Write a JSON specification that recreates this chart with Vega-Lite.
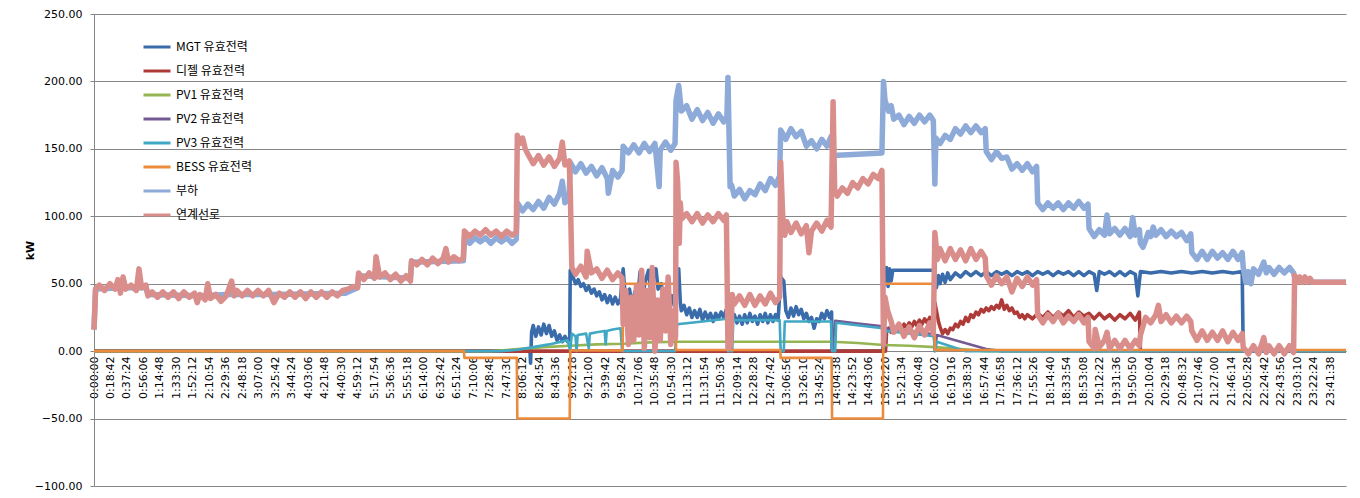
{
"$schema": "https://vega.github.io/schema/vega-lite/v6.json",
"width": 1252, "height": 472,
"autosize": {"type": "none"},
"padding": {"left": 94, "top": 14, "right": 14, "bottom": 12},
"background": "white",
"config": {"view": {"stroke": null}},
"datasets": {
"mgt": [{"t":0,"v":0},{"t":8.24,"v":0},{"t":8.25,"v":-9},{"t":8.27,"v":14},{"t":8.3,"v":19},{"t":8.35,"v":11},{"t":8.4,"v":18},{"t":8.45,"v":12},{"t":8.5,"v":20},{"t":8.55,"v":13},{"t":8.6,"v":19},{"t":8.65,"v":11},{"t":8.7,"v":15},{"t":8.75,"v":8},{"t":8.8,"v":12},{"t":8.85,"v":7},{"t":8.9,"v":11},{"t":8.95,"v":7},{"t":8.99,"v":10},{"t":9.0,"v":60},{"t":9.05,"v":55},{"t":9.1,"v":50},{"t":9.15,"v":53},{"t":9.2,"v":48},{"t":9.25,"v":50},{"t":9.3,"v":45},{"t":9.35,"v":48},{"t":9.4,"v":43},{"t":9.45,"v":46},{"t":9.5,"v":41},{"t":9.55,"v":44},{"t":9.6,"v":38},{"t":9.65,"v":42},{"t":9.7,"v":36},{"t":9.75,"v":41},{"t":9.8,"v":35},{"t":9.85,"v":40},{"t":9.9,"v":35},{"t":9.95,"v":39},{"t":10.0,"v":61},{"t":10.03,"v":45},{"t":10.08,"v":34},{"t":10.12,"v":46},{"t":10.17,"v":33},{"t":10.22,"v":44},{"t":10.27,"v":38},{"t":10.32,"v":59},{"t":10.36,"v":40},{"t":10.42,"v":52},{"t":10.48,"v":60},{"t":10.52,"v":44},{"t":10.57,"v":55},{"t":10.62,"v":61},{"t":10.66,"v":46},{"t":10.72,"v":50},{"t":10.77,"v":37},{"t":10.82,"v":44},{"t":10.87,"v":34},{"t":10.92,"v":41},{"t":10.97,"v":33},{"t":11.0,"v":60},{"t":11.05,"v":61},{"t":11.08,"v":36},{"t":11.1,"v":30},{"t":11.15,"v":34},{"t":11.2,"v":27},{"t":11.25,"v":32},{"t":11.3,"v":25},{"t":11.35,"v":30},{"t":11.4,"v":25},{"t":11.45,"v":31},{"t":11.5,"v":23},{"t":11.55,"v":29},{"t":11.6,"v":24},{"t":11.65,"v":28},{"t":11.7,"v":22},{"t":11.75,"v":28},{"t":11.8,"v":24},{"t":11.85,"v":29},{"t":11.9,"v":25},{"t":11.95,"v":31},{"t":12.0,"v":27},{"t":12.05,"v":22},{"t":12.1,"v":27},{"t":12.15,"v":21},{"t":12.2,"v":26},{"t":12.25,"v":20},{"t":12.3,"v":27},{"t":12.35,"v":21},{"t":12.4,"v":28},{"t":12.45,"v":22},{"t":12.5,"v":26},{"t":12.55,"v":20},{"t":12.6,"v":27},{"t":12.65,"v":22},{"t":12.7,"v":28},{"t":12.75,"v":21},{"t":12.8,"v":27},{"t":12.85,"v":22},{"t":12.9,"v":27},{"t":12.95,"v":23},{"t":13.0,"v":55},{"t":13.06,"v":52},{"t":13.1,"v":30},{"t":13.15,"v":25},{"t":13.2,"v":32},{"t":13.25,"v":26},{"t":13.3,"v":33},{"t":13.35,"v":27},{"t":13.4,"v":31},{"t":13.45,"v":24},{"t":13.5,"v":28},{"t":13.55,"v":22},{"t":13.6,"v":25},{"t":13.65,"v":17},{"t":13.7,"v":24},{"t":13.75,"v":22},{"t":13.8,"v":28},{"t":13.85,"v":24},{"t":13.9,"v":30},{"t":13.95,"v":25},{"t":13.99,"v":29},{"t":14.0,"v":0},{"t":14.99,"v":0},{"t":15.0,"v":60},{"t":15.03,"v":50},{"t":15.06,"v":62},{"t":15.09,"v":48},{"t":15.12,"v":61},{"t":15.15,"v":52},{"t":15.18,"v":60},{"t":15.5,"v":60},{"t":15.99,"v":60},{"t":16.0,"v":55},{"t":16.03,"v":47},{"t":16.07,"v":56},{"t":16.1,"v":50},{"t":16.15,"v":57},{"t":16.2,"v":51},{"t":16.25,"v":58},{"t":16.3,"v":53},{"t":16.4,"v":58},{"t":16.5,"v":55},{"t":16.6,"v":59},{"t":16.7,"v":56},{"t":16.8,"v":59},{"t":16.9,"v":56},{"t":17.0,"v":59},{"t":17.1,"v":56},{"t":17.2,"v":59},{"t":17.3,"v":57},{"t":17.4,"v":59},{"t":17.5,"v":56},{"t":17.6,"v":59},{"t":17.7,"v":57},{"t":17.8,"v":59},{"t":17.9,"v":56},{"t":18.0,"v":59},{"t":18.1,"v":57},{"t":18.2,"v":59},{"t":18.3,"v":56},{"t":18.4,"v":59},{"t":18.5,"v":57},{"t":18.6,"v":59},{"t":18.7,"v":56},{"t":18.8,"v":59},{"t":18.9,"v":56},{"t":19.0,"v":59},{"t":19.1,"v":57},{"t":19.15,"v":45},{"t":19.2,"v":59},{"t":19.3,"v":57},{"t":19.4,"v":59},{"t":19.5,"v":56},{"t":19.6,"v":59},{"t":19.7,"v":56},{"t":19.8,"v":59},{"t":19.9,"v":57},{"t":19.95,"v":41},{"t":20.0,"v":59},{"t":20.2,"v":58},{"t":20.4,"v":59},{"t":20.6,"v":58},{"t":20.8,"v":59},{"t":21.0,"v":58},{"t":21.2,"v":59},{"t":21.4,"v":58},{"t":21.6,"v":59},{"t":21.8,"v":58},{"t":21.98,"v":59},{"t":22.0,"v":0},{"t":24,"v":0}],
"diesel": [{"t":0,"v":0},{"t":15.04,"v":0},{"t":15.06,"v":14},{"t":15.1,"v":17},{"t":15.15,"v":14},{"t":15.2,"v":18},{"t":15.25,"v":15},{"t":15.3,"v":19},{"t":15.35,"v":16},{"t":15.4,"v":20},{"t":15.45,"v":17},{"t":15.5,"v":21},{"t":15.55,"v":18},{"t":15.6,"v":22},{"t":15.65,"v":19},{"t":15.7,"v":23},{"t":15.75,"v":20},{"t":15.8,"v":24},{"t":15.85,"v":21},{"t":15.9,"v":25},{"t":15.95,"v":23},{"t":15.99,"v":26},{"t":16.0,"v":36},{"t":16.03,"v":30},{"t":16.07,"v":22},{"t":16.1,"v":18},{"t":16.15,"v":13},{"t":16.2,"v":16},{"t":16.25,"v":13},{"t":16.3,"v":17},{"t":16.35,"v":16},{"t":16.4,"v":20},{"t":16.45,"v":18},{"t":16.5,"v":22},{"t":16.55,"v":20},{"t":16.6,"v":25},{"t":16.65,"v":22},{"t":16.7,"v":27},{"t":16.75,"v":25},{"t":16.8,"v":29},{"t":16.85,"v":27},{"t":16.9,"v":31},{"t":16.95,"v":29},{"t":17.0,"v":32},{"t":17.05,"v":30},{"t":17.1,"v":33},{"t":17.15,"v":31},{"t":17.2,"v":34},{"t":17.25,"v":32},{"t":17.3,"v":38},{"t":17.35,"v":31},{"t":17.4,"v":34},{"t":17.45,"v":30},{"t":17.5,"v":32},{"t":17.55,"v":28},{"t":17.6,"v":29},{"t":17.65,"v":25},{"t":17.7,"v":27},{"t":17.75,"v":24},{"t":17.8,"v":27},{"t":17.9,"v":24},{"t":18.0,"v":28},{"t":18.1,"v":25},{"t":18.2,"v":29},{"t":18.3,"v":25},{"t":18.4,"v":29},{"t":18.5,"v":26},{"t":18.6,"v":30},{"t":18.7,"v":25},{"t":18.8,"v":29},{"t":18.9,"v":26},{"t":19.0,"v":28},{"t":19.1,"v":24},{"t":19.2,"v":28},{"t":19.3,"v":24},{"t":19.4,"v":27},{"t":19.5,"v":23},{"t":19.6,"v":27},{"t":19.7,"v":24},{"t":19.8,"v":28},{"t":19.9,"v":23},{"t":19.98,"v":29},{"t":20.0,"v":0},{"t":24,"v":0}],
"pv1": [{"t":0,"v":0},{"t":7.5,"v":0},{"t":8.0,"v":1.5},{"t":8.5,"v":3},{"t":9.0,"v":4},{"t":9.5,"v":5},{"t":10.0,"v":5.5},{"t":10.5,"v":6.5},{"t":11.0,"v":7},{"t":14.0,"v":7},{"t":14.5,"v":6},{"t":15.0,"v":4.5},{"t":15.5,"v":4},{"t":16.0,"v":3},{"t":16.5,"v":1.5},{"t":17.0,"v":0},{"t":24,"v":0}],
"pv2": [{"t":14.0,"v":0},{"t":14.06,"v":22.5},{"t":14.5,"v":20.5},{"t":14.98,"v":18.5},{"t":15.0,"v":0},{"t":15.06,"v":17},{"t":15.5,"v":15},{"t":15.98,"v":12.5},{"t":16.0,"v":0},{"t":16.04,"v":12},{"t":16.5,"v":7},{"t":17.0,"v":1.5},{"t":17.3,"v":0},{"t":24,"v":0}],
"pv3": [{"t":0,"v":0},{"t":7.7,"v":0},{"t":8.0,"v":1},{"t":8.3,"v":3},{"t":8.6,"v":5},{"t":8.95,"v":8},{"t":9.0,"v":0},{"t":9.03,"v":13},{"t":9.1,"v":11},{"t":9.12,"v":0},{"t":9.14,"v":12},{"t":9.3,"v":13},{"t":9.35,"v":2},{"t":9.37,"v":13},{"t":9.5,"v":14},{"t":9.65,"v":15},{"t":9.67,"v":5},{"t":9.69,"v":15},{"t":9.8,"v":16},{"t":9.95,"v":17},{"t":9.98,"v":0},{"t":10.98,"v":0},{"t":11.02,"v":20},{"t":11.5,"v":22},{"t":11.96,"v":24},{"t":11.98,"v":0},{"t":12.06,"v":0},{"t":12.08,"v":23},{"t":12.98,"v":23},{"t":13.0,"v":0},{"t":13.06,"v":0},{"t":13.08,"v":22},{"t":13.98,"v":22},{"t":14.0,"v":0},{"t":14.06,"v":0},{"t":14.08,"v":21},{"t":14.98,"v":17},{"t":15.0,"v":0},{"t":15.05,"v":15},{"t":15.98,"v":11},{"t":16.0,"v":0},{"t":16.04,"v":7},{"t":16.6,"v":0},{"t":24,"v":0}],
"bess": [{"t":0,"v":0},{"t":6.99,"v":0},{"t":7.0,"v":-5},{"t":7.99,"v":-5},{"t":8.0,"v":-50},{"t":8.99,"v":-50},{"t":9.0,"v":0.5},{"t":9.99,"v":0.5},{"t":10.0,"v":50},{"t":10.99,"v":50},{"t":11.0,"v":0.8},{"t":12.99,"v":0.8},{"t":13.0,"v":-5},{"t":13.99,"v":-5},{"t":14.0,"v":-50},{"t":14.99,"v":-50},{"t":15.0,"v":50},{"t":15.99,"v":50},{"t":16.0,"v":0.8},{"t":24,"v":0.8}],
"load": [{"t":0,"v":16},{"t":0.03,"v":46},{"t":0.5,"v":47},{"t":0.98,"v":47},{"t":1.02,"v":42},{"t":2.0,"v":41},{"t":2.5,"v":42},{"t":3.4,"v":42},{"t":4.75,"v":43},{"t":4.98,"v":47},{"t":5.0,"v":56},{"t":5.98,"v":54},{"t":6.0,"v":66},{"t":6.98,"v":67},{"t":7.0,"v":83},{"t":7.1,"v":80},{"t":7.2,"v":84},{"t":7.3,"v":81},{"t":7.4,"v":84},{"t":7.5,"v":80},{"t":7.6,"v":84},{"t":7.7,"v":81},{"t":7.8,"v":84},{"t":7.9,"v":80},{"t":7.98,"v":83},{"t":8.0,"v":110},{"t":8.1,"v":104},{"t":8.2,"v":109},{"t":8.3,"v":105},{"t":8.4,"v":111},{"t":8.5,"v":106},{"t":8.6,"v":114},{"t":8.7,"v":109},{"t":8.8,"v":117},{"t":8.85,"v":126},{"t":8.9,"v":110},{"t":8.98,"v":115},{"t":9.0,"v":140},{"t":9.1,"v":133},{"t":9.2,"v":139},{"t":9.3,"v":132},{"t":9.4,"v":137},{"t":9.5,"v":130},{"t":9.6,"v":136},{"t":9.7,"v":128},{"t":9.72,"v":117},{"t":9.8,"v":134},{"t":9.9,"v":129},{"t":9.98,"v":134},{"t":10.0,"v":152},{"t":10.1,"v":147},{"t":10.2,"v":153},{"t":10.3,"v":147},{"t":10.4,"v":154},{"t":10.5,"v":148},{"t":10.6,"v":154},{"t":10.68,"v":122},{"t":10.7,"v":149},{"t":10.8,"v":155},{"t":10.9,"v":149},{"t":10.98,"v":154},{"t":11.0,"v":186},{"t":11.05,"v":197},{"t":11.1,"v":178},{"t":11.2,"v":182},{"t":11.3,"v":172},{"t":11.4,"v":179},{"t":11.5,"v":171},{"t":11.6,"v":177},{"t":11.7,"v":169},{"t":11.8,"v":176},{"t":11.9,"v":170},{"t":11.96,"v":174},{"t":11.98,"v":203},{"t":12.02,"v":122},{"t":12.05,"v":123},{"t":12.1,"v":115},{"t":12.2,"v":120},{"t":12.3,"v":113},{"t":12.4,"v":119},{"t":12.5,"v":116},{"t":12.6,"v":124},{"t":12.7,"v":119},{"t":12.8,"v":128},{"t":12.9,"v":123},{"t":12.98,"v":130},{"t":13.0,"v":164},{"t":13.1,"v":157},{"t":13.2,"v":165},{"t":13.3,"v":159},{"t":13.4,"v":163},{"t":13.5,"v":152},{"t":13.6,"v":156},{"t":13.7,"v":150},{"t":13.8,"v":157},{"t":13.9,"v":152},{"t":13.98,"v":159},{"t":14.02,"v":145},{"t":14.5,"v":146},{"t":14.97,"v":147},{"t":15.0,"v":200},{"t":15.03,"v":186},{"t":15.1,"v":178},{"t":15.15,"v":182},{"t":15.2,"v":172},{"t":15.3,"v":175},{"t":15.4,"v":168},{"t":15.5,"v":174},{"t":15.6,"v":169},{"t":15.7,"v":175},{"t":15.8,"v":170},{"t":15.9,"v":175},{"t":15.97,"v":171},{"t":16.0,"v":124},{"t":16.02,"v":158},{"t":16.1,"v":154},{"t":16.2,"v":160},{"t":16.3,"v":157},{"t":16.4,"v":165},{"t":16.5,"v":161},{"t":16.6,"v":167},{"t":16.7,"v":162},{"t":16.8,"v":167},{"t":16.9,"v":162},{"t":16.98,"v":165},{"t":17.0,"v":148},{"t":17.1,"v":142},{"t":17.2,"v":148},{"t":17.3,"v":143},{"t":17.4,"v":144},{"t":17.5,"v":135},{"t":17.6,"v":139},{"t":17.7,"v":134},{"t":17.8,"v":139},{"t":17.9,"v":133},{"t":17.98,"v":137},{"t":18.0,"v":110},{"t":18.1,"v":105},{"t":18.2,"v":110},{"t":18.3,"v":106},{"t":18.4,"v":110},{"t":18.5,"v":105},{"t":18.6,"v":110},{"t":18.7,"v":106},{"t":18.8,"v":111},{"t":18.9,"v":106},{"t":18.98,"v":109},{"t":19.0,"v":91},{"t":19.1,"v":85},{"t":19.2,"v":90},{"t":19.3,"v":86},{"t":19.35,"v":101},{"t":19.4,"v":87},{"t":19.5,"v":91},{"t":19.6,"v":86},{"t":19.7,"v":91},{"t":19.8,"v":85},{"t":19.85,"v":99},{"t":19.9,"v":86},{"t":19.98,"v":90},{"t":20.0,"v":80},{"t":20.05,"v":77},{"t":20.1,"v":82},{"t":20.15,"v":88},{"t":20.2,"v":85},{"t":20.25,"v":92},{"t":20.3,"v":86},{"t":20.4,"v":90},{"t":20.5,"v":85},{"t":20.6,"v":89},{"t":20.7,"v":85},{"t":20.8,"v":88},{"t":20.9,"v":82},{"t":20.98,"v":87},{"t":21.0,"v":73},{"t":21.1,"v":68},{"t":21.2,"v":74},{"t":21.3,"v":68},{"t":21.4,"v":74},{"t":21.5,"v":69},{"t":21.6,"v":73},{"t":21.7,"v":68},{"t":21.8,"v":74},{"t":21.9,"v":68},{"t":21.98,"v":73},{"t":22.0,"v":62},{"t":22.05,"v":51},{"t":22.1,"v":59},{"t":22.15,"v":50},{"t":22.2,"v":61},{"t":22.3,"v":57},{"t":22.4,"v":66},{"t":22.45,"v":58},{"t":22.5,"v":62},{"t":22.6,"v":57},{"t":22.7,"v":62},{"t":22.8,"v":58},{"t":22.9,"v":62},{"t":22.98,"v":58},{"t":23.0,"v":55},{"t":23.33,"v":52},{"t":23.34,"v":51},{"t":24,"v":51}],
"grid": [{"t":0,"v":16},{"t":0.03,"v":46},{"t":0.1,"v":49},{"t":0.2,"v":45},{"t":0.3,"v":50},{"t":0.4,"v":46},{"t":0.45,"v":53},{"t":0.5,"v":43},{"t":0.55,"v":55},{"t":0.6,"v":46},{"t":0.7,"v":49},{"t":0.8,"v":45},{"t":0.85,"v":61},{"t":0.9,"v":47},{"t":0.98,"v":49},{"t":1.02,"v":41},{"t":1.1,"v":44},{"t":1.2,"v":40},{"t":1.3,"v":44},{"t":1.4,"v":40},{"t":1.5,"v":44},{"t":1.6,"v":39},{"t":1.7,"v":44},{"t":1.8,"v":40},{"t":1.9,"v":43},{"t":1.95,"v":36},{"t":2.0,"v":42},{"t":2.1,"v":38},{"t":2.15,"v":50},{"t":2.2,"v":39},{"t":2.3,"v":42},{"t":2.4,"v":37},{"t":2.5,"v":41},{"t":2.6,"v":52},{"t":2.65,"v":41},{"t":2.7,"v":45},{"t":2.8,"v":41},{"t":2.9,"v":45},{"t":3.0,"v":41},{"t":3.1,"v":45},{"t":3.2,"v":41},{"t":3.3,"v":45},{"t":3.4,"v":36},{"t":3.5,"v":43},{"t":3.6,"v":40},{"t":3.7,"v":44},{"t":3.8,"v":40},{"t":3.9,"v":44},{"t":4.0,"v":39},{"t":4.1,"v":44},{"t":4.2,"v":40},{"t":4.3,"v":44},{"t":4.4,"v":40},{"t":4.5,"v":44},{"t":4.6,"v":41},{"t":4.7,"v":45},{"t":4.8,"v":46},{"t":4.9,"v":48},{"t":4.98,"v":47},{"t":5.0,"v":58},{"t":5.1,"v":53},{"t":5.2,"v":58},{"t":5.3,"v":54},{"t":5.33,"v":70},{"t":5.4,"v":55},{"t":5.5,"v":58},{"t":5.6,"v":53},{"t":5.7,"v":57},{"t":5.8,"v":52},{"t":5.9,"v":56},{"t":5.98,"v":52},{"t":6.0,"v":67},{"t":6.1,"v":64},{"t":6.2,"v":68},{"t":6.3,"v":64},{"t":6.4,"v":69},{"t":6.5,"v":65},{"t":6.6,"v":69},{"t":6.65,"v":76},{"t":6.7,"v":66},{"t":6.8,"v":70},{"t":6.9,"v":67},{"t":6.98,"v":69},{"t":7.0,"v":89},{"t":7.1,"v":85},{"t":7.2,"v":89},{"t":7.3,"v":86},{"t":7.4,"v":90},{"t":7.5,"v":86},{"t":7.6,"v":89},{"t":7.7,"v":85},{"t":7.8,"v":89},{"t":7.9,"v":86},{"t":7.98,"v":88},{"t":8.0,"v":160},{"t":8.05,"v":154},{"t":8.1,"v":158},{"t":8.15,"v":150},{"t":8.2,"v":146},{"t":8.3,"v":139},{"t":8.4,"v":145},{"t":8.5,"v":138},{"t":8.6,"v":144},{"t":8.7,"v":137},{"t":8.8,"v":143},{"t":8.85,"v":155},{"t":8.9,"v":138},{"t":8.98,"v":141},{"t":9.0,"v":120},{"t":9.03,"v":62},{"t":9.1,"v":57},{"t":9.2,"v":63},{"t":9.3,"v":55},{"t":9.32,"v":74},{"t":9.4,"v":58},{"t":9.5,"v":61},{"t":9.6,"v":54},{"t":9.7,"v":60},{"t":9.8,"v":53},{"t":9.9,"v":58},{"t":9.98,"v":54},{"t":10.0,"v":20},{"t":10.05,"v":45},{"t":10.1,"v":5},{"t":10.15,"v":40},{"t":10.2,"v":8},{"t":10.25,"v":48},{"t":10.3,"v":12},{"t":10.35,"v":60},{"t":10.4,"v":2},{"t":10.45,"v":45},{"t":10.5,"v":10},{"t":10.55,"v":62},{"t":10.6,"v":0},{"t":10.65,"v":38},{"t":10.7,"v":8},{"t":10.75,"v":46},{"t":10.8,"v":15},{"t":10.85,"v":55},{"t":10.9,"v":5},{"t":10.95,"v":30},{"t":10.99,"v":10},{"t":11.0,"v":140},{"t":11.03,"v":125},{"t":11.06,"v":80},{"t":11.08,"v":110},{"t":11.1,"v":98},{"t":11.2,"v":102},{"t":11.3,"v":96},{"t":11.4,"v":102},{"t":11.5,"v":95},{"t":11.6,"v":101},{"t":11.7,"v":96},{"t":11.8,"v":102},{"t":11.9,"v":97},{"t":11.95,"v":101},{"t":11.98,"v":2},{"t":12.03,"v":4},{"t":12.06,"v":42},{"t":12.1,"v":35},{"t":12.2,"v":41},{"t":12.3,"v":34},{"t":12.4,"v":42},{"t":12.5,"v":34},{"t":12.6,"v":41},{"t":12.7,"v":35},{"t":12.8,"v":43},{"t":12.9,"v":36},{"t":12.98,"v":40},{"t":13.0,"v":140},{"t":13.04,"v":100},{"t":13.08,"v":86},{"t":13.12,"v":96},{"t":13.2,"v":88},{"t":13.3,"v":95},{"t":13.4,"v":87},{"t":13.5,"v":93},{"t":13.55,"v":73},{"t":13.6,"v":89},{"t":13.7,"v":95},{"t":13.8,"v":89},{"t":13.9,"v":97},{"t":13.98,"v":92},{"t":14.02,"v":185},{"t":14.05,"v":120},{"t":14.1,"v":115},{"t":14.2,"v":121},{"t":14.3,"v":117},{"t":14.4,"v":125},{"t":14.5,"v":121},{"t":14.6,"v":128},{"t":14.7,"v":124},{"t":14.8,"v":131},{"t":14.9,"v":128},{"t":14.97,"v":134},{"t":15.0,"v":5},{"t":15.03,"v":40},{"t":15.08,"v":30},{"t":15.15,"v":22},{"t":15.2,"v":14},{"t":15.3,"v":20},{"t":15.4,"v":11},{"t":15.5,"v":18},{"t":15.6,"v":10},{"t":15.7,"v":19},{"t":15.8,"v":12},{"t":15.9,"v":21},{"t":15.97,"v":13},{"t":16.0,"v":88},{"t":16.05,"v":68},{"t":16.1,"v":76},{"t":16.2,"v":67},{"t":16.3,"v":76},{"t":16.4,"v":68},{"t":16.5,"v":75},{"t":16.6,"v":67},{"t":16.7,"v":76},{"t":16.8,"v":68},{"t":16.9,"v":74},{"t":16.98,"v":69},{"t":17.0,"v":56},{"t":17.1,"v":49},{"t":17.2,"v":56},{"t":17.3,"v":50},{"t":17.4,"v":55},{"t":17.5,"v":44},{"t":17.6,"v":54},{"t":17.7,"v":48},{"t":17.8,"v":55},{"t":17.9,"v":49},{"t":17.98,"v":53},{"t":18.0,"v":27},{"t":18.1,"v":21},{"t":18.2,"v":27},{"t":18.3,"v":22},{"t":18.4,"v":28},{"t":18.5,"v":21},{"t":18.6,"v":26},{"t":18.7,"v":22},{"t":18.8,"v":27},{"t":18.9,"v":21},{"t":18.98,"v":25},{"t":19.0,"v":7},{"t":19.1,"v":2},{"t":19.12,"v":16},{"t":19.2,"v":3},{"t":19.3,"v":8},{"t":19.35,"v":14},{"t":19.4,"v":2},{"t":19.5,"v":8},{"t":19.6,"v":2},{"t":19.7,"v":8},{"t":19.8,"v":2},{"t":19.9,"v":8},{"t":19.98,"v":4},{"t":20.0,"v":12},{"t":20.1,"v":25},{"t":20.2,"v":21},{"t":20.3,"v":27},{"t":20.35,"v":34},{"t":20.4,"v":22},{"t":20.5,"v":27},{"t":20.6,"v":21},{"t":20.7,"v":26},{"t":20.8,"v":21},{"t":20.9,"v":26},{"t":20.98,"v":22},{"t":21.0,"v":15},{"t":21.1,"v":8},{"t":21.2,"v":15},{"t":21.3,"v":8},{"t":21.4,"v":14},{"t":21.5,"v":8},{"t":21.6,"v":15},{"t":21.7,"v":7},{"t":21.8,"v":14},{"t":21.9,"v":8},{"t":21.98,"v":13},{"t":22.0,"v":3},{"t":22.1,"v":-2},{"t":22.2,"v":4},{"t":22.3,"v":-2},{"t":22.4,"v":10},{"t":22.45,"v":-1},{"t":22.5,"v":4},{"t":22.6,"v":-2},{"t":22.7,"v":4},{"t":22.8,"v":-2},{"t":22.9,"v":4},{"t":22.98,"v":-1},{"t":23.0,"v":56},{"t":23.05,"v":51},{"t":23.1,"v":55},{"t":23.15,"v":51},{"t":23.2,"v":55},{"t":23.25,"v":51},{"t":23.3,"v":54},{"t":23.34,"v":51},{"t":24.0,"v":51}]
},
"encoding": {
"x": {"field": "t", "type": "quantitative",
 "scale": {"domain": [0, 11.84333, 12.15389, 24], "range": [0, 626.7, 643.2, 1252], "nice": false, "zero": false},
 "axis": {"orient": "bottom", "offset": -135, "title": null, "grid": false, "ticks": false,
  "values": [0,0.31167,0.62333,0.935,1.24667,1.55833,1.87,2.18167,2.49333,2.805,3.11667,3.42833,3.74,4.05167,4.36333,4.675,4.98667,5.29833,5.61,5.92167,6.23333,6.545,6.85667,7.16833,7.48,7.79167,8.10333,8.415,8.72667,9.03833,9.35,9.66167,9.97333,10.285,10.59667,10.90833,11.22,11.53167,11.84333,12.15389,12.47444,12.795,13.11556,13.43611,13.75667,14.07722,14.39778,14.71833,15.03889,15.35944,15.68,16.00056,16.32111,16.64167,16.96222,17.28278,17.60333,17.92389,18.24444,18.565,18.88556,19.20611,19.52667,19.84722,20.16778,20.48833,20.80889,21.12944,21.45,21.77056,22.09111,22.41167,22.73222,23.05278,23.37333,23.69389],
  "labelExpr": "floor(round(datum.value*3600)/3600) + ':' + (floor(round(datum.value*3600)%3600/60) < 10 ? '0' : '') + floor(round(datum.value*3600)%3600/60) + ':' + (round(datum.value*3600)%60 < 10 ? '0' : '') + round(datum.value*3600)%60",
  "labelAngle": 270, "labelFont": "DejaVu Sans", "labelFontSize": 11, "labelColor": "#000000", "labelPadding": 5,
  "labelOverlap": false, "labelBound": false, "labelFlush": false,
  "domainColor": "#868686", "domainWidth": 1}},
"y": {"field": "v", "type": "quantitative",
 "scale": {"domain": [-100, 250], "nice": false, "zero": false},
 "axis": {"values": [-100,-50,0,50,100,150,200,250], "format": ".2f", "grid": true, "gridColor": "#868686", "gridWidth": 1,
  "domainColor": "#868686", "tickColor": "#868686", "tickSize": 4, "labelPadding": 8,
  "labelFont": "DejaVu Sans", "labelFontSize": 11, "labelColor": "#000000",
  "title": "kW", "titleFont": "DejaVu Sans", "titleFontSize": 11, "titleFontWeight": "bold", "titleColor": "#000000",
  "titleX": -64, "titleY": 236, "titleAlign": "center", "titleBaseline": "middle"}}
},
"layer": [
{"data": {"name": "mgt"}, "mark": {"type": "line", "strokeWidth": 3.6, "strokeJoin": "round"},
 "encoding": {"color": {"datum": "MGT 유효전력", "type": "nominal",
  "scale": {"domain": ["MGT 유효전력","디젤 유효전력","PV1 유효전력","PV2 유효전력","PV3 유효전력","BESS 유효전력","부하","연계선로"], "range": ["#3A6BAA","#AE3B37","#94B551","#735A95","#40A8C4","#EB8C3C","#8DAAD9","#D98E8C"]},
  "legend": {"orient": "none", "legendX": 48, "legendY": 18, "title": null, "padding": 0, "symbolType": "stroke", "symbolSize": 729, "symbolStrokeWidth": 3, "rowPadding": 3, "labelFont": "Noto Sans CJK KR", "labelFontSize": 12, "labelColor": "#000000", "labelOffset": 4}}}},
{"data": {"name": "diesel"}, "mark": {"type": "line", "strokeWidth": 3.6, "strokeJoin": "round"}, "encoding": {"color": {"datum": "디젤 유효전력", "type": "nominal"}}},
{"data": {"name": "pv1"}, "mark": {"type": "line", "strokeWidth": 2.6, "strokeJoin": "round"}, "encoding": {"color": {"datum": "PV1 유효전력", "type": "nominal"}}},
{"data": {"name": "pv2"}, "mark": {"type": "line", "strokeWidth": 2.6, "strokeJoin": "round"}, "encoding": {"color": {"datum": "PV2 유효전력", "type": "nominal"}}},
{"data": {"name": "pv3"}, "mark": {"type": "line", "strokeWidth": 2.6, "strokeJoin": "round"}, "encoding": {"color": {"datum": "PV3 유효전력", "type": "nominal"}}},
{"data": {"name": "bess"}, "mark": {"type": "line", "strokeWidth": 2.6, "strokeJoin": "round"}, "encoding": {"color": {"datum": "BESS 유효전력", "type": "nominal"}}},
{"data": {"name": "load"}, "mark": {"type": "line", "strokeWidth": 5.5, "strokeJoin": "round"}, "encoding": {"color": {"datum": "부하", "type": "nominal"}}},
{"data": {"name": "grid"}, "mark": {"type": "line", "strokeWidth": 5.5, "strokeJoin": "round"}, "encoding": {"color": {"datum": "연계선로", "type": "nominal"}}}
]
}
